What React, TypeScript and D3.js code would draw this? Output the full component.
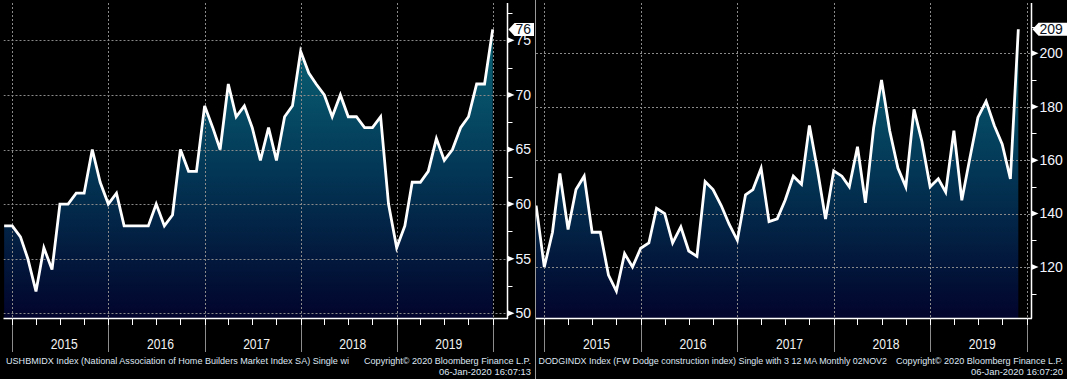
import React from 'react';
import * as d3 from 'd3';

const W = 1067;
const H = 379;

// NAHB index, monthly, Nov 2014 .. Dec 2019
const leftValues = [58, 58,
  57, 55, 52, 56, 54, 60, 60, 61, 61, 65, 62, 60,
  61, 58, 58, 58, 58, 60, 58, 59, 65, 63, 63, 69,
  67, 65, 71, 68, 69, 67, 64, 67, 64, 68, 69, 74,
  72, 71, 70, 68, 70, 68, 68, 67, 67, 68, 60, 56,
  58, 62, 62, 63, 66, 64, 65, 67, 68, 71, 71, 76];

// FW Dodge construction index, monthly, Nov 2014 .. Nov 2019
const rightValues = [143, 120,
  133, 155, 134, 149, 154, 133, 133, 117, 111, 125, 120, 127,
  129, 142, 140, 129, 135, 126, 124, 152, 149, 143, 136, 130,
  147, 149, 157, 137, 138, 145, 154, 151, 173, 156, 138, 156,
  154, 150, 165, 144, 172, 190, 171, 157, 150, 179, 167, 150,
  153, 148, 171, 145, 161, 176, 182, 173, 166, 153, 209];

// points are plotted at month end (first day of next month)
const leftDates = d3.timeMonth.range(new Date(2014, 11, 1), new Date(2020, 0, 2));
const rightDates = d3.timeMonth.range(new Date(2014, 11, 1), new Date(2019, 11, 2));

const years = [2015, 2016, 2017, 2018, 2019];
const leftMajor = [50, 55, 60, 65, 70, 75];
const leftMinor = [52.5, 57.5, 62.5, 67.5, 72.5, 77.5];
const rightMajor = [120, 140, 160, 180, 200];
const rightMinor = [110, 130, 150, 170, 190, 210];

const leftFooter = 'USHBMIDX Index (National Association of Home Builders Market Index SA) Single wi';
const rightFooter = 'DODGINDX Index (FW Dodge construction index) Single with 3 12 MA  Monthly 02NOV2';
const copyright = 'Copyright\u00A9 2020 Bloomberg Finance L.P.';
const leftStamp = '06-Jan-2020 16:07:13';
const rightStamp = '06-Jan-2020 16:07:20';

const TOP = 3;
const BOTTOM = 318.5;
const FOOT_FONT = "'Liberation Sans', Arial, sans-serif";

type PanelProps = {
  id: string;
  dates: Date[];
  values: number[];
  plotLeft: number;
  axisX: number;
  x2015: number;
  x2020: number;
  yDomain: [number, number];
  yRange: [number, number];
  major: number[];
  minor: number[];
  boxRight: number;
  footer: string;
  footerEnd: number;
  footerX: number;
  copyX: number;
  copyEnd: number;
  stamp: string;
  stampX: number;
};

function Panel(p: PanelProps) {
  const x = d3.scaleTime().domain([new Date(2015, 0, 1), new Date(2020, 0, 1)]).range([p.x2015, p.x2020]);
  const y = d3.scaleLinear().domain(p.yDomain).range(p.yRange);
  const pts = p.dates.map((d, i) => [x(d), y(p.values[i])] as [number, number]);
  const line = d3.line<[number, number]>().x(d => d[0]).y(d => d[1])(pts) || '';
  const area = d3.area<[number, number]>().x(d => d[0]).y0(BOTTOM).y1(d => d[1])(pts) || '';
  const yearLines = d3.timeYear.range(new Date(2015, 0, 1), new Date(2020, 0, 2)).map(d => x(d));
  const quarters = d3.timeMonth.every(3)!.range(new Date(2015, 0, 1), new Date(2020, 0, 2)).map(d => x(d));
  const last = p.values[p.values.length - 1];
  const ly = y(last);
  const ax = p.axisX;
  const grid = '#8a8a8a';
  return (
    <g>
      <defs>
        <linearGradient id={p.id + 'g'} gradientUnits="userSpaceOnUse" x1={0} x2={0} y1={TOP} y2={BOTTOM}>
          <stop offset="0" stopColor="#0c6f7e" />
          <stop offset="0.5" stopColor="#033a58" />
          <stop offset="1" stopColor="#02042c" />
        </linearGradient>
        <clipPath id={p.id + 'c'}>
          <rect x={p.plotLeft} y={0} width={ax - p.plotLeft} height={BOTTOM} />
        </clipPath>
      </defs>
      <g clipPath={`url(#${p.id}c)`}>
        <path d={area} fill={`url(#${p.id}g)`} />
        {p.major.map(v => (
          <line key={'h' + v} x1={p.plotLeft} x2={ax} y1={Math.round(y(v)) + 0.5} y2={Math.round(y(v)) + 0.5}
            stroke={grid} strokeDasharray="2,2" strokeWidth={1} />
        ))}
        {yearLines.map((xv, i) => (
          <line key={'v' + i} x1={Math.round(xv) + 0.5} x2={Math.round(xv) + 0.5} y1={TOP} y2={BOTTOM}
            stroke={grid} strokeDasharray="2,2" strokeWidth={1} />
        ))}
        <path d={line} fill="none" stroke="#ffffff" strokeWidth={2.8} strokeLinejoin="miter" />
      </g>
      {/* axes */}
      <line x1={p.plotLeft} x2={ax + 0.5} y1={BOTTOM} y2={BOTTOM} stroke="#ffffff" strokeWidth={1.5} />
      <line x1={ax} x2={ax} y1={TOP} y2={BOTTOM} stroke="#ffffff" strokeWidth={1.5} />
      {yearLines.map((xv, i) => (
        <line key={'yl' + i} x1={Math.round(xv) + 0.5} x2={Math.round(xv) + 0.5} y1={BOTTOM} y2={352}
          stroke="#8c8c8c" strokeWidth={1} />
      ))}
      {quarters.map((xv, i) => (
        <line key={'q' + i} x1={Math.round(xv) + 0.5} x2={Math.round(xv) + 0.5} y1={BOTTOM} y2={325}
          stroke="#ffffff" strokeWidth={1} />
      ))}
      {years.map((yr) => {
        const a = x(new Date(yr, 0, 1));
        const b = x(new Date(yr + 1, 0, 1));
        return (
          <text key={'yr' + yr} x={(a + b) / 2 + 4} y={349} textAnchor="middle" fill="#f2f2f2"
            fontFamily="'Liberation Sans', Arial, sans-serif" fontSize={14} textLength={27} lengthAdjust="spacingAndGlyphs">
            {String(yr)}
          </text>
        );
      })}
      {p.minor.map(v => (
        <line key={'mn' + v} x1={ax} x2={ax + 5} y1={Math.round(y(v)) + 0.5} y2={Math.round(y(v)) + 0.5}
          stroke="#ffffff" strokeWidth={1} />
      ))}
      {p.major.map(v => {
        const yy = y(v);
        return (
          <g key={'mj' + v}>
            <path d={`M${ax},${yy - 3}L${ax + 7},${yy}L${ax},${yy + 3}Z`} fill="#ffffff" />
            <text x={ax + 8} y={yy + 4.8} fill="#f4f6ff" fontFamily="'Liberation Sans', Arial, sans-serif" fontSize={14}>
              {String(v)}
            </text>
          </g>
        );
      })}
      <path d={`M${ax + 1},${ly}L${ax + 7},${ly - 6.5}L${p.boxRight},${ly - 6.5}L${p.boxRight},${ly + 6.5}L${ax + 7},${ly + 6.5}Z`}
        fill="#ffffff" />
      <text x={ax + 8} y={ly + 5} fill="#0a1020" fontFamily="'Liberation Sans', Arial, sans-serif" fontSize={14}>
        {String(last)}
      </text>
      {/* footer */}
      <text x={p.footerX} y={364} fill="#dfe6f2" fontFamily={FOOT_FONT} fontSize={9}
        textLength={p.footerEnd - p.footerX} lengthAdjust="spacingAndGlyphs">{p.footer}</text>
      <text x={p.copyX} y={364} fill="#dfe6f2" fontFamily={FOOT_FONT} fontSize={9}
        textLength={p.copyEnd - p.copyX} lengthAdjust="spacingAndGlyphs">{copyright}</text>
      <text x={p.stampX} y={375} fill="#dfe6f2" fontFamily={FOOT_FONT} fontSize={9}
        textLength={p.copyEnd - p.stampX} lengthAdjust="spacingAndGlyphs">{p.stamp}</text>
    </g>
  );
}

export default function App() {
  return (
    <div style={{ position: 'fixed', left: 0, top: 0, width: W, height: H, background: '#000' }}>
      <svg width={W} height={H} style={{ display: 'block' }}>
        <rect x={0} y={0} width={W} height={H} fill="#000000" />
        <Panel id="L" dates={leftDates} values={leftValues} plotLeft={3.5} axisX={507.5}
          x2015={12.3} x2020={492.7} yDomain={[50, 75]} yRange={[313.3, 40.3]}
          major={leftMajor} minor={leftMinor} boxRight={534}
          footer={leftFooter} footerX={6} footerEnd={349} copyX={364} copyEnd={531}
          stamp={leftStamp} stampX={439} />
        <Panel id="R" dates={rightDates} values={rightValues} plotLeft={536} axisX={1031.5}
          x2015={544.3} x2020={1026.5} yDomain={[120, 200]} yRange={[267, 53.3]}
          major={rightMajor} minor={rightMinor} boxRight={1067}
          footer={rightFooter} footerX={538.5} footerEnd={887} copyX={896} copyEnd={1063}
          stamp={rightStamp} stampX={971} />
        <line x1={535.5} x2={535.5} y1={0} y2={H} stroke="#9a9a9a" strokeWidth={1} />
      </svg>
    </div>
  );
}
